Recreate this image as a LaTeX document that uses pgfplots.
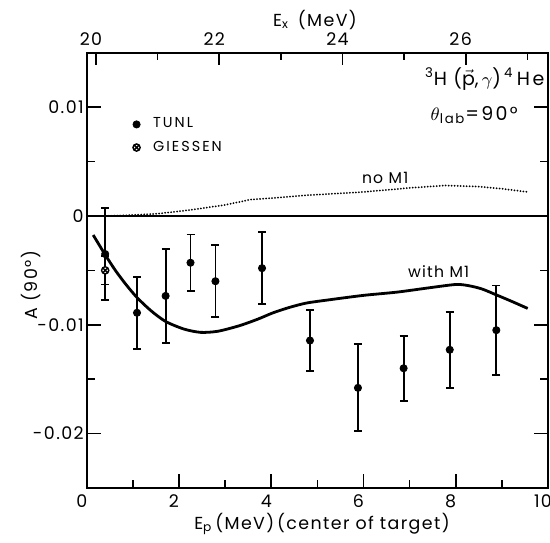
\documentclass[border=0pt]{standalone}
\usepackage{fontspec}
\setmainfont{Poppins}
\usepackage{pgfplots}
\usepackage{pgfplotstable}
\pgfplotsset{compat=1.18}

\pgfplotstableread{
x y e
0.40 -0.0035 0.0042
1.09 -0.0089 0.0033
1.71 -0.00735 0.0043
2.25 -0.0043 0.0026
2.79 -0.0060 0.0033
3.80 -0.0048 0.0033
4.84 -0.01145 0.0028
5.88 -0.0158 0.0040
6.87 -0.0140 0.0030
7.87 -0.0123 0.0035
8.88 -0.0105 0.0041
}\tunl

\pgfplotstableread{
x y e
0.40 -0.0050 0.0013
}\giessen

\pgfplotstableread{
x y
0.14 -0.00175
0.39 -0.0035
0.62 -0.0050
0.85 -0.0063
1.09 -0.0075
1.39 -0.0087
1.71 -0.0097
2.11 -0.0104
2.47 -0.0107
2.84 -0.0106
3.30 -0.0101
3.70 -0.0095
4.04 -0.0089
4.40 -0.0084
4.77 -0.0080
5.27 -0.0077
6.00 -0.0073
6.73 -0.0070
7.43 -0.0066
8.00 -0.0063
8.27 -0.0064
8.56 -0.0067
8.85 -0.0072
9.24 -0.0079
9.56 -0.0085
}\withmone

\pgfplotstableread{
x y
0.40 0.0000
0.83 0.00005
1.53 0.0002
2.25 0.00055
2.98 0.0010
3.55 0.0015
4.20 0.0017
4.77 0.0019
6.00 0.0022
7.08 0.0026
7.78 0.0028
8.49 0.0027
9.00 0.0025
9.56 0.0022
}\nomone

\newcommand\spc[1]{\fontsize{#1}{#1}\selectfont\addfontfeature{LetterSpace=8}}

\begin{document}
\begin{tikzpicture}
\begin{axis}[
  scale only axis, width=230.5pt, height=217.5pt,
  xmin=0, xmax=10, ymin=-0.025, ymax=0.015,
  axis line style={line width=1pt},
  tick align=inside,
  xtick={0,2,4,6,8,10}, minor xtick={1,3,5,7,9},
  xticklabels={0,2,4,6,8,10},
  xtick pos=bottom,
  ytick={-0.02,-0.01,0,0.01}, yticklabels={-0.02,-0.01,0,0.01},
  minor ytick={-0.015,-0.005,0.005},
  ytick pos=both, yticklabel pos=left,
  scaled y ticks=false,
  major tick length=7pt, minor tick length=4pt,
  every tick/.style={black, line width=0.8pt},
  tick label style={font=\spc{8.7}},
  /pgf/number format/assume math mode=true,
  xticklabel style={xshift=-2.5pt},
  yticklabel style={xshift=2pt},
  xlabel={E\textsubscript{p}\,(MeV)\,(center of target)},
  xlabel style={font=\spc{8.7}, at={(axis description cs:0.51,-0.0956)}, anchor=base},
  ylabel={A (90°)},
  ylabel style={font=\spc{8.7}, at={(axis description cs:-0.12,0.466)}, anchor=center},
  legend style={at={(axis description cs:0.095,0.865)}, anchor=north west, draw=none, fill=none,
    font=\fontsize{7.2}{8}\selectfont\addfontfeature{LetterSpace=14}, row sep=1pt, inner sep=1pt,
    nodes={inner xsep=6.5pt}},
  legend cell align=left,
]
\addplot[black, line width=0.8pt, forget plot] coordinates {(0,0) (10,0)};
\addplot[black, line width=1pt, line cap=round, dash pattern=on 0pt off 1.5pt, forget plot] table[x=x,y=y] {\nomone};
\addplot[black, line width=1.4pt, smooth, tension=0.45, forget plot] table[x=x,y=y] {\withmone};
\addplot[only marks, mark=*, mark size=1.8pt, black,
  error bars/.cd, y dir=both, y explicit,
  error bar style={line width=0.9pt},
  error mark options={rotate=90, mark size=2pt, line width=0.9pt}]
  table[x=x,y=y,y error=e] {\tunl};
\addlegendentry{TUNL}
\addplot[only marks, mark=otimes*, mark size=1.8pt, black, fill=white, mark options={line width=0.7pt},
  error bars/.cd, y dir=both, y explicit,
  error bar style={line width=0.9pt},
  error mark options={rotate=90, mark size=2pt, line width=0.9pt}]
  table[x=x,y=y,y error=e] {\giessen};
\addlegendentry{GIESSEN}
\node[anchor=base, font=\spc{7.8}] at (axis cs:6.47,0.0030) {no M1};
\node[anchor=base, font=\spc{7.8}] at (axis cs:7.63,-0.0057) {with M1};
\node[anchor=base east, font=\fontsize{9.5}{11}\selectfont\addfontfeature{LetterSpace=14}, inner sep=0pt] at (axis cs:9.93,0.0120)
  {\textsuperscript{3}H\,\,($\vec{\hbox{p}}$,\,$\gamma$)\,\textsuperscript{4}\,He};
\node[anchor=base, font=\fontsize{9.5}{11}\selectfont\addfontfeature{LetterSpace=12}, inner sep=0pt] at (axis cs:8.4,0.0088)
  {$\theta$\textsubscript{lab}=90°};
\end{axis}
\begin{axis}[
  scale only axis, width=230.5pt, height=217.5pt,
  xmin=19.85, xmax=27.335, ymin=-0.025, ymax=0.015,
  axis x line*=top, hide y axis,
  axis line style={line width=1pt},
  tick align=inside,
  xtick={20,22,24,26}, xticklabels={20,22,24,26}, minor xtick={21,23,25,27},
  major tick length=6pt, minor tick length=3.5pt,
  every tick/.style={black, line width=0.8pt},
  tick label style={font=\spc{8.7}},
  /pgf/number format/assume math mode=true,
  xticklabel style={xshift=-2.5pt},
  xlabel={E\textsubscript{x}\, (MeV)},
  xlabel style={font=\spc{8.7}, at={(axis description cs:0.495,1.0614)}, anchor=base},
]
\end{axis}
\pgfresetboundingbox
\path ([shift={(-43.35pt,-27.15pt)}]current axis.south west) rectangle ([shift={(1pt,26.35pt)}]current axis.north east);
\end{tikzpicture}
\end{document}
